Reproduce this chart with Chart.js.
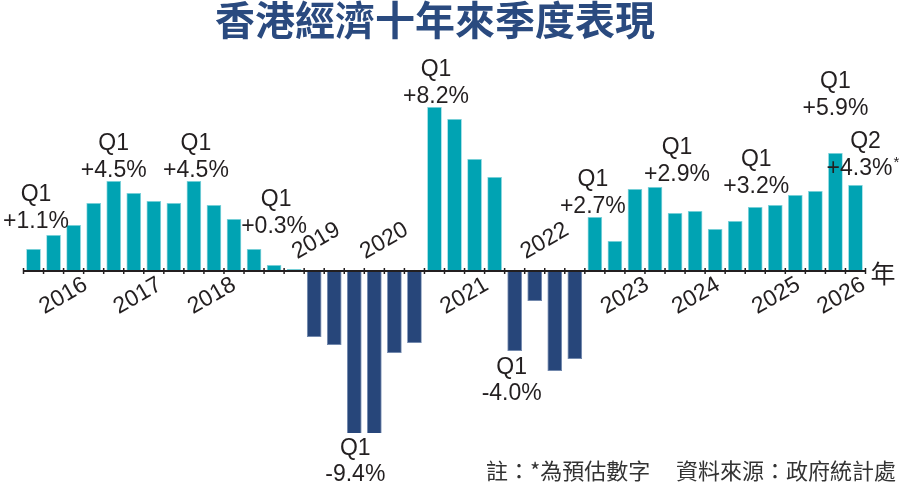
<!DOCTYPE html>
<html>
<head>
<meta charset="utf-8">
<title>香港經濟十年來季度表現</title>
<script src="https://cdn.jsdelivr.net/npm/chart.js@4.4.3/dist/chart.umd.min.js"></script>
<style>
  html, body { margin: 0; padding: 0; background: #fff; }
  #wrap { width: 907px; height: 488px; position: relative; }
</style>
</head>
<body>
<div id="wrap"><canvas id="chart" width="907" height="488"></canvas></div>
<script>
// quarterly real GDP growth, year on year (%)
const years = ['2016', '2017', '2018', '2019', '2020', '2021', '2022', '2023', '2024', '2025', '2026'];
const quarterNames = ['Q1', 'Q2', 'Q3', 'Q4'];
const growth = [
    1.1, 1.8, 2.3, 3.4,     // 2016
    4.5, 3.9, 3.5, 3.4,     // 2017
    4.5, 3.3, 2.6, 1.1,     // 2018
    0.3, 0.1, -3.3, -3.7,   // 2019
    -9.4, -9.1, -4.1, -3.6, // 2020
    8.2, 7.6, 5.6, 4.7,     // 2021
    -4.0, -1.5, -5.0, -4.4, // 2022
    2.7, 1.5, 4.1, 4.2,     // 2023
    2.9, 3.0, 2.1, 2.5,     // 2024
    3.2, 3.3, 3.8, 4.0,     // 2025
    5.9, 4.3                // 2026
];
// callouts: which bar, quarter name, value text
const calloutIdx = [0, 4, 8, 12, 16, 20, 24, 28, 32, 36, 40, 41];
const calloutQuarter = ['Q1', 'Q1', 'Q1', 'Q1', 'Q1', 'Q1', 'Q1', 'Q1', 'Q1', 'Q1', 'Q1', 'Q2'];
const calloutText = ['+1.1%', '+4.5%', '+4.5%', '+0.3%', '-9.4%', '+8.2%', '-4.0%', '+2.7%', '+2.9%', '+3.2%', '+5.9%', '+4.3%'];
const estimatedIdx = [41];

const categories = growth.map((v, i) => years[Math.floor(i / 4)] + ' ' + quarterNames[i % 4]);

const TEAL = '#00a3b3';
const NAVY = '#27467a';
const INK = '#231f20';
const LABEL_FONT = '23px "Liberation Sans", Arial, sans-serif';

// hand placement of the callouts, in pixels
const calloutStyle = [
    { dx: 2.5, gap: 21 }, { dx: 0, gap: 4 }, { dx: 2, gap: 4 }, { dx: 0, gap: 32, qdx: 2 },
    { dx: 1, gap: 22 }, { dx: 1.5, gap: 4 }, { dx: -3, gap: 23 }, { dx: -2, gap: 4 },
    { dx: 2, gap: 32 }, { dx: 1, gap: 14 }, { dx: 0, gap: 38 }, { dx: 4, gap: 10, qdx: 6 }
];
const yearAbove = ['2019', '2020', '2022'];
const yearDx = { '2017': -6, '2018': -12, '2019': 12, '2024': -9, '2025': -9, '2026': -4 };

const overlay = {
    id: 'overlay',
    afterDatasetsDraw(chart) {
        const { ctx, chartArea, scales: { x, y } } = chart;
        const meta = chart.getDatasetMeta(0);
        const y0 = y.getPixelForValue(0);
        const half = (x.getPixelForValue(1) - x.getPixelForValue(0)) / 2;

        ctx.save();
        // axis with tick marks between quarters
        ctx.strokeStyle = INK;
        ctx.lineWidth = 2;
        ctx.beginPath();
        ctx.moveTo(chartArea.left, y0);
        ctx.lineTo(chartArea.right, y0);
        ctx.stroke();
        ctx.lineWidth = 1.5;
        for (let i = 0; i <= growth.length; i++) {
            const px = x.getPixelForValue(Math.min(i, growth.length - 1)) + (i < growth.length ? -half : half);
            ctx.beginPath();
            ctx.moveTo(px, y0 - 3);
            ctx.lineTo(px, y0 + 3);
            ctx.stroke();
        }

        // year labels, slanted
        ctx.fillStyle = INK;
        ctx.font = LABEL_FONT;
        ctx.textAlign = 'center';
        ctx.textBaseline = 'middle';
        years.forEach((yr, k) => {
            const first = k * 4;
            const last = Math.min(first + 3, growth.length - 1);
            const cx = (x.getPixelForValue(first) + x.getPixelForValue(last)) / 2 + (yearDx[yr] || 0);
            const cy = yearAbove.includes(yr) ? y0 - 30 : y0 + 25;
            ctx.save();
            ctx.translate(cx, cy);
            ctx.rotate(-Math.PI / 6);
            ctx.fillText(yr, 0, 0);
            ctx.restore();
        });

        // "年" at the end of the axis
        ctx.font = '25px "Noto Sans CJK TC", sans-serif';
        ctx.textAlign = 'left';
        ctx.fillText('年', chartArea.right + 5, y0 + 2);

        // callouts
        ctx.font = LABEL_FONT;
        ctx.textAlign = 'center';
        ctx.textBaseline = 'alphabetic';
        calloutIdx.forEach((idx, j) => {
            const bar = meta.data[idx];
            const st = calloutStyle[j];
            let qY, vY;
            if (growth[idx] >= 0) {
                vY = bar.y - st.gap;
                qY = vY - 27;
            } else {
                qY = Math.min(bar.y, chartArea.bottom) + st.gap;
                vY = qY + 26;
            }
            const cx = bar.x + st.dx;
            ctx.fillText(calloutQuarter[j], cx + (st.qdx || 0), qY);
            ctx.fillText(calloutText[j], cx, vY);
            if (estimatedIdx.includes(idx)) {
                const w = ctx.measureText(calloutText[j]).width;
                ctx.save();
                ctx.font = '15px "Liberation Sans", Arial, sans-serif';
                ctx.textAlign = 'left';
                ctx.fillText('*', cx + w / 2 + 1, vY - 8);
                ctx.restore();
            }
        });

        // title and footnote
        ctx.fillStyle = '#2a4a7f';
        ctx.font = 'bold 40px "Noto Sans CJK TC", sans-serif';
        ctx.textAlign = 'center';
        ctx.textBaseline = 'middle';
        ctx.fillText('香港經濟十年來季度表現', 435, 20);

        ctx.fillStyle = '#333';
        ctx.font = '22px "Noto Sans CJK TC", sans-serif';
        ctx.textAlign = 'left';
        ctx.fillText('註：*為預估數字', 486, 471);
        ctx.textAlign = 'right';
        ctx.fillText('資料來源：政府統計處', 896, 471);
        ctx.restore();
    }
};

new Chart(document.getElementById('chart'), {
    type: 'bar',
    data: {
        labels: categories,
        datasets: [{
            data: growth,
            backgroundColor: growth.map(v => v >= 0 ? TEAL : NAVY),
            borderColor: growth.map(v => v >= 0 ? '#7fd3db' : '#6a83ab'),
            borderWidth: 0.8,
            barPercentage: 0.73,
            categoryPercentage: 1
        }]
    },
    options: {
        responsive: false,
        animation: false,
        layout: { padding: { left: 23.5, right: 41.5, top: 61, bottom: 55 } },
        plugins: { legend: { display: false }, tooltip: { enabled: false } },
        scales: {
            x: { display: false },
            y: { display: false, min: -8.1, max: 10.5 }
        }
    },
    plugins: [overlay]
});
</script>
</body>
</html>
